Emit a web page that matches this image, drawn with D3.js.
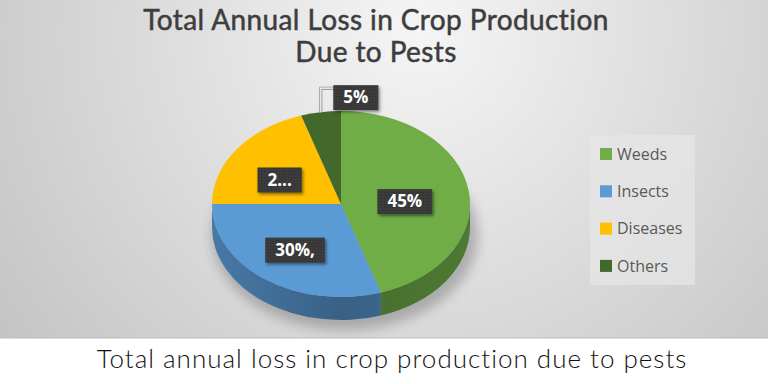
<!DOCTYPE html>
<html>
<head>
<meta charset="utf-8">
<script src="https://cdn.jsdelivr.net/npm/d3@7"></script>
<style>
  html, body { margin: 0; padding: 0; background: #fff; }
  svg { display: block; }
</style>
</head>
<body>
<div class="chart"></div>
<script>
// données
var categories = ["Weeds", "Insects", "Diseases", "Others"];
var values = [45, 30, 20, 5];
var labels = ["45%", "30%,", "2...", "5%"];
var colors = ["#70AD47", "#5B9BD5", "#FFC000", "#43682B"];
var titleLines = ["Total Annual Loss in Crop Production", "Due to Pests"];
var caption = "Total annual loss in crop production due to pests";

var W = 768, H = 384, plotH = 338;
var cx = 341, cy = 204, rx = 129, ry = 93, depth = 23;

var svg = d3.select(".chart").append("svg")
    .attr("width", W)
    .attr("height", H);

var defs = svg.append("defs");

// fond gris en dégradé radial
var bg = defs.append("radialGradient")
    .attr("id", "bg-grad")
    .attr("gradientUnits", "userSpaceOnUse")
    .attr("cx", 420).attr("cy", 30).attr("r", 520)
    .attr("fx", 420).attr("fy", 30);
bg.append("stop").attr("offset", "0%").attr("stop-color", "#f5f5f5");
bg.append("stop").attr("offset", "55%").attr("stop-color", "#dadada");
bg.append("stop").attr("offset", "100%").attr("stop-color", "#c4c4c4");

var blur = defs.append("filter").attr("id", "soft")
    .attr("x", "-30%").attr("y", "-30%").attr("width", "160%").attr("height", "160%");
blur.append("feGaussianBlur").attr("stdDeviation", 6);

var shadow = defs.append("filter").attr("id", "boxshadow")
    .attr("x", "-20%").attr("y", "-20%").attr("width", "150%").attr("height", "160%");
shadow.append("feDropShadow")
    .attr("dx", 1.5).attr("dy", 2).attr("stdDeviation", 1.5)
    .attr("flood-color", "#000").attr("flood-opacity", 0.45);

// motif des étiquettes
var pat = defs.append("pattern").attr("id", "lblpat")
    .attr("width", 3).attr("height", 3).attr("patternUnits", "userSpaceOnUse");
pat.append("rect").attr("width", 3).attr("height", 3).attr("fill", "#3b3b3b");
pat.append("rect").attr("width", 1).attr("height", 1).attr("fill", "#2e2e2e");

svg.append("rect")
    .attr("width", W).attr("height", plotH)
    .attr("fill", "url(#bg-grad)");
svg.append("line")
    .attr("x1", 0).attr("x2", W).attr("y1", plotH).attr("y2", plotH)
    .attr("stroke", "#bdbdbd");

// titre
svg.append("g").selectAll("text")
    .data(titleLines)
    .enter().append("text")
    .attr("x", 376)
    .attr("y", function(d, i) { return 30 + i * 32; })
    .attr("text-anchor", "middle")
    .style("font-family", "Lato, 'Noto Sans', sans-serif")
    .style("font-size", "28px")
    .style("letter-spacing", "0.4px")
    .style("fill", "#3d3d3d")
    .style("stroke", "#3d3d3d")
    .style("stroke-width", "0.5px")
    .text(function(d) { return d; });

// camembert 3D
var pie = d3.pie().sort(null).value(function(d) { return d; });
var arcs = pie(values);

function pt(a, dy) {
    return [cx + rx * Math.sin(a), cy - ry * Math.cos(a) + (dy || 0)];
}

// ombre sous le camembert
svg.append("ellipse")
    .attr("cx", cx + 4).attr("cy", cy + depth + 8)
    .attr("rx", rx + 4).attr("ry", ry + 2)
    .attr("fill", "#000").attr("opacity", 0.22)
    .attr("filter", "url(#soft)");

// faces latérales (partie avant visible)
var sides = svg.append("g");
arcs.forEach(function(d, i) {
    var s = Math.max(d.startAngle, Math.PI / 2);
    var e = Math.min(d.endAngle, 3 * Math.PI / 2);
    if (s >= e) return;
    var p0 = pt(s), p1 = pt(e), q1 = pt(e, depth), q0 = pt(s, depth);
    var path = "M" + p0 + "A" + rx + "," + ry + " 0 0 1 " + p1 +
        "L" + q1 + "A" + rx + "," + ry + " 0 0 0 " + q0 + "Z";
    var gid = "side-" + i;
    var g = defs.append("linearGradient").attr("id", gid)
        .attr("gradientUnits", "userSpaceOnUse")
        .attr("x1", cx - rx).attr("x2", cx + rx).attr("y1", 0).attr("y2", 0);
    var base = d3.color(colors[i]);
    g.append("stop").attr("offset", "0%").attr("stop-color", base.darker(0.7));
    g.append("stop").attr("offset", "50%").attr("stop-color", base.darker(1.3));
    g.append("stop").attr("offset", "100%").attr("stop-color", base.darker(1.0));
    sides.append("path")
        .attr("d", path)
        .attr("fill", "url(#" + gid + ")");
});

// face supérieure
var arc = d3.arc().innerRadius(0).outerRadius(1);
svg.append("g")
    .attr("transform", "translate(" + cx + "," + cy + ") scale(" + rx + "," + ry + ")")
    .selectAll("path")
    .data(arcs)
    .enter().append("path")
    .attr("d", arc)
    .attr("fill", function(d, i) { return colors[i]; });

// étiquettes
var lblFont = "'Open Sans', 'DejaVu Sans', sans-serif";
var lg = svg.append("g");
arcs.forEach(function(d, i) {
    var mid = (d.startAngle + d.endAngle) / 2;
    var small = values[i] < 10;
    var lx, ly;
    if (small) {
        var anchor = pt(mid);
        lx = anchor[0] + 35; ly = anchor[1] - 15;
        var pts = [anchor, [anchor[0], ly - 9], [lx - 22, ly - 9]].join(" ");
        lg.append("polyline")
            .attr("points", pts)
            .attr("fill", "none")
            .attr("stroke", "#8c8c8c")
            .attr("stroke-width", 3);
        lg.append("polyline")
            .attr("points", pts)
            .attr("fill", "none")
            .attr("stroke", "#ffffff")
            .attr("stroke-width", 1.2);
    } else {
        // position approchée façon Excel 3D
        var k = 0.54;
        lx = cx + k * rx * Math.sin(mid) - 5;
        ly = cy - k * ry * Math.cos(mid) + 5;
    }
    var t = lg.append("text")
        .attr("x", lx).attr("y", ly)
        .attr("dy", "0.36em")
        .attr("text-anchor", "middle")
        .style("font-family", lblFont)
        .style("font-weight", "bold")
        .style("font-size", "17px")
        .style("fill", "#fff")
        .text(labels[i]);
    var bb = t.node().getBBox();
    lg.insert("rect", function() { return t.node(); })
        .attr("x", bb.x - 10).attr("y", ly - 12)
        .attr("width", bb.width + 20).attr("height", 25)
        .attr("fill", "url(#lblpat)")
        .attr("filter", "url(#boxshadow)");
});

// légende
var legend = svg.append("g").attr("transform", "translate(590,135)");
legend.append("rect")
    .attr("width", 105).attr("height", 150)
    .attr("fill", "#e6e6e6").attr("opacity", 0.75);
var items = legend.selectAll(".legend")
    .data(categories)
    .enter().append("g")
    .attr("class", "legend")
    .attr("transform", function(d, i) { return "translate(10," + (19 + i * 37.3) + ")"; });
items.append("rect")
    .attr("x", 0).attr("y", -6)
    .attr("width", 12).attr("height", 12)
    .attr("fill", function(d, i) { return colors[i]; });
items.append("text")
    .attr("x", 17).attr("dy", "0.35em")
    .style("font-family", lblFont)
    .style("font-size", "16px")
    .style("fill", "#595959")
    .text(function(d) { return d; });

// légende du bas
svg.append("text")
    .attr("x", 392).attr("y", 368)
    .attr("text-anchor", "middle")
    .style("font-family", "Lato, 'Noto Sans', sans-serif")
    .style("font-weight", 300)
    .style("font-size", "26px")
    .style("letter-spacing", "1px")
    .style("fill", "#111")
    .text(caption);
</script>
</body>
</html>
